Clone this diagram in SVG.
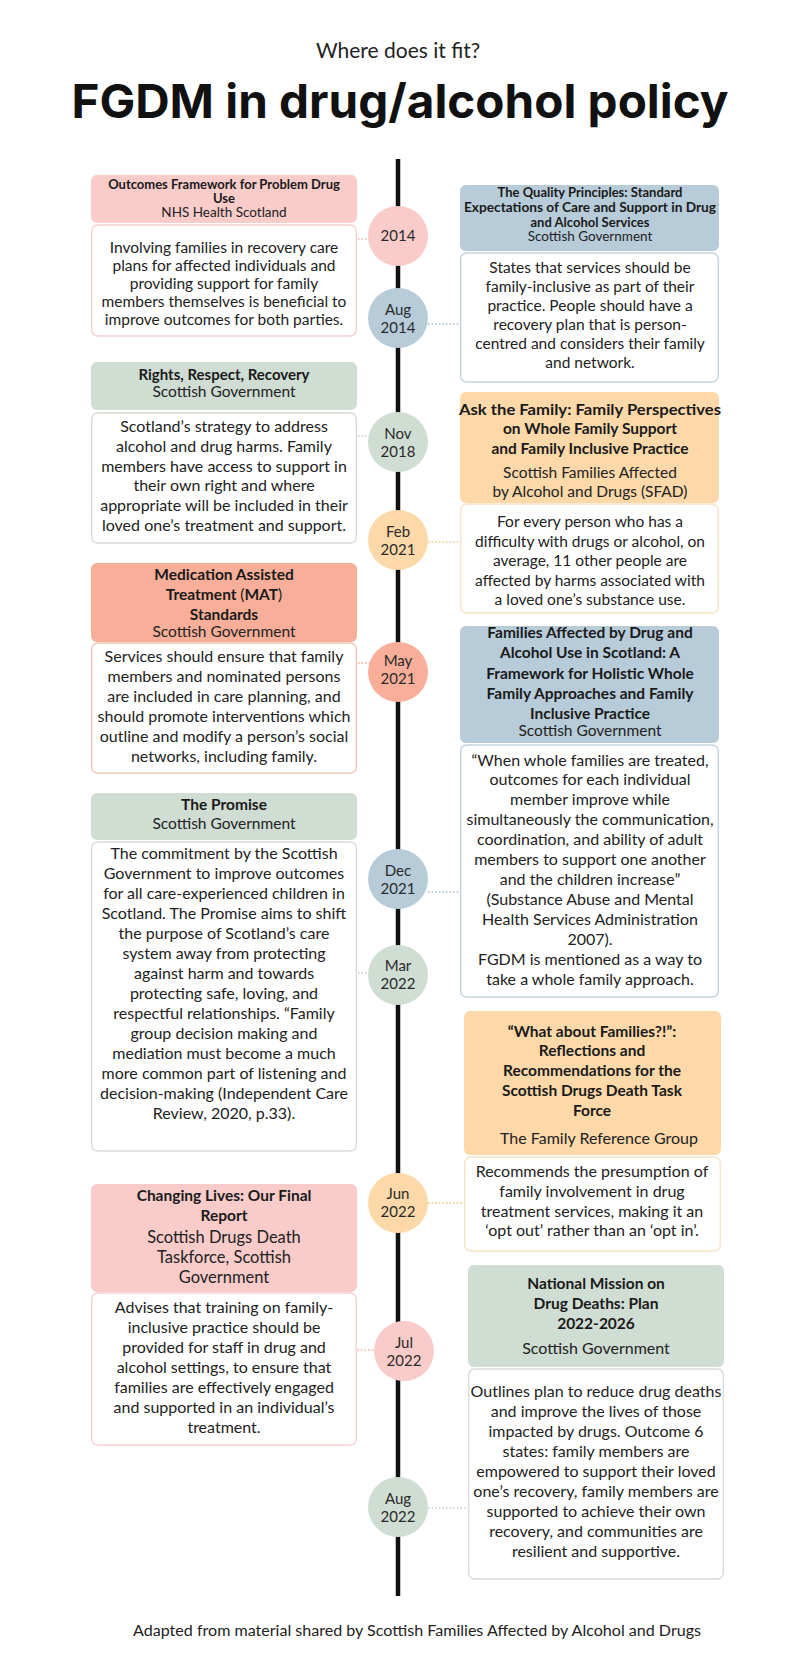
<svg xmlns="http://www.w3.org/2000/svg" width="796" height="1664" viewBox="0 0 796 1664">
<style>
.bg{fill:#ffffff}
.t{font-family:Lato,"Liberation Sans",sans-serif;text-anchor:middle;fill:#222222}
.hb{font-weight:700;fill:#1a1a1a}
.hs{font-weight:400}
.pinkH{fill:#f9cbc9}.blueH{fill:#b7cbd9}.greenH{fill:#cfddd3}.orangeH{fill:#fdd8a8}.salmonH{fill:#f8ae98}
.body{fill:#ffffff;stroke-width:1.4}
.pinkB{stroke:#f2d2d0}.blueB{stroke:#c3d2dc}.greenB{stroke:#d5dcd7}.orangeB{stroke:#f7e3c5}.salmonB{stroke:#f1c5b8}.grayB{stroke:#d8dcde}
.dot{fill:none;stroke-width:1.6;stroke-dasharray:1.6 2}
.ct{font-family:Lato,"Liberation Sans",sans-serif;text-anchor:middle;fill:#2a2a2a;font-size:15px}
</style>
<rect class="bg" x="0" y="0" width="796" height="1664"/>

<g id="title">
<text class="t" x="398" y="58" font-size="21">Where does it fit?</text>
<text x="400" y="118" font-family="Inter,'Liberation Sans',sans-serif" font-weight="700" font-size="47" text-anchor="middle" fill="#111111" textLength="657" lengthAdjust="spacingAndGlyphs">FGDM in drug/alcohol policy</text>
</g>

<g id="connectors">
<line x1="398" y1="159" x2="398" y2="1596" stroke="#111111" stroke-width="4.5"/>
<line class="dot" x1="358" y1="239" x2="370" y2="239" stroke="#f2b6b3"/>
<line class="dot" x1="428" y1="324" x2="460" y2="324" stroke="#a9bfcf"/>
<line class="dot" x1="358" y1="436" x2="370" y2="436" stroke="#c3d0c7"/>
<line class="dot" x1="428" y1="542" x2="460" y2="542" stroke="#f3c58a"/>
<line class="dot" x1="358" y1="663" x2="370" y2="663" stroke="#f3a48e"/>
<line class="dot" x1="428" y1="892" x2="460" y2="892" stroke="#a9bfcf"/>
<line class="dot" x1="358" y1="973" x2="370" y2="973" stroke="#c3d0c7"/>
<line class="dot" x1="428" y1="1203" x2="464" y2="1203" stroke="#f3c58a"/>
<line class="dot" x1="332" y1="1350" x2="375" y2="1350" stroke="#f2aea5"/>
<circle cx="332" cy="1350" r="3.5" fill="#f2a99a"/>
<line class="dot" x1="428" y1="1508" x2="468" y2="1508" stroke="#c3d0c7"/>
</g>

<g id="dates">
<circle cx="398" cy="236" r="30" class="pinkH"/>
<text class="ct" x="398" y="241">2014</text>
<circle cx="398" cy="318" r="30" class="blueH"/>
<text class="ct" x="398" y="315">Aug</text><text class="ct" x="398" y="333">2014</text>
<circle cx="398" cy="442" r="30" class="greenH"/>
<text class="ct" x="398" y="439">Nov</text><text class="ct" x="398" y="457">2018</text>
<circle cx="398" cy="540" r="30" class="orangeH"/>
<text class="ct" x="398" y="537">Feb</text><text class="ct" x="398" y="555">2021</text>
<circle cx="398" cy="672" r="30" class="salmonH"/>
<text class="ct" x="398" y="666">May</text><text class="ct" x="398" y="684">2021</text>
<circle cx="398" cy="879" r="30" class="blueH"/>
<text class="ct" x="398" y="876">Dec</text><text class="ct" x="398" y="894">2021</text>
<circle cx="398" cy="975" r="30" class="greenH"/>
<text class="ct" x="398" y="971">Mar</text><text class="ct" x="398" y="989">2022</text>
<circle cx="398" cy="1203" r="30" class="orangeH"/>
<text class="ct" x="398" y="1199">Jun</text><text class="ct" x="398" y="1217">2022</text>
<circle cx="404" cy="1351" r="30" class="pinkH"/>
<text class="ct" x="404" y="1348">Jul</text><text class="ct" x="404" y="1366">2022</text>
<circle cx="398" cy="1507" r="30" class="greenH"/>
<text class="ct" x="398" y="1504">Aug</text><text class="ct" x="398" y="1522">2022</text>
</g>

<g id="outcomes-framework">
<rect x="91" y="175" width="266" height="48" rx="6" class="pinkH"/>
<rect x="91.7" y="225" width="264.6" height="111" rx="6" class="body pinkB"/>
<text class="t hb" x="224" y="189" font-size="13">Outcomes Framework for Problem Drug</text>
<text class="t hb" x="224" y="203" font-size="13">Use</text>
<text class="t hs" x="224" y="217" font-size="13.5">NHS Health Scotland</text>
<g class="t" font-size="15.5">
<text x="224" y="253">Involving families in recovery care</text>
<text x="224" y="271">plans for affected individuals and</text>
<text x="224" y="289">providing support for family</text>
<text x="224" y="307">members themselves is beneficial to</text>
<text x="224" y="325">improve outcomes for both parties.</text>
</g>
</g>

<g id="quality-principles">
<rect x="460" y="185" width="259" height="66" rx="6" class="blueH"/>
<rect x="460.7" y="253" width="257.6" height="129" rx="6" class="body blueB"/>
<text class="t hb" x="590" y="197" font-size="13">The Quality Principles: Standard</text>
<text class="t hb" x="590" y="212" font-size="13" textLength="252" lengthAdjust="spacingAndGlyphs">Expectations of Care and Support in Drug</text>
<text class="t hb" x="590" y="227" font-size="13">and Alcohol Services</text>
<text class="t hs" x="590" y="241" font-size="13.5">Scottish Government</text>
<g class="t" font-size="15.5">
<text x="590" y="273">States that services should be</text>
<text x="590" y="292">family-inclusive as part of their</text>
<text x="590" y="311">practice. People should have a</text>
<text x="590" y="330">recovery plan that is person-</text>
<text x="590" y="349">centred and considers their family</text>
<text x="590" y="368">and network.</text>
</g>
</g>

<g id="rights-respect-recovery">
<rect x="91" y="362" width="266" height="48" rx="6" class="greenH"/>
<rect x="91.7" y="413" width="264.6" height="130" rx="6" class="body greenB"/>
<text class="t hb" x="224" y="380" font-size="15">Rights, Respect, Recovery</text>
<text class="t hs" x="224" y="397" font-size="15.5">Scottish Government</text>
<g class="t" font-size="16">
<text x="224" y="432">Scotland’s strategy to address</text>
<text x="224" y="452">alcohol and drug harms. Family</text>
<text x="224" y="472">members have access to support in</text>
<text x="224" y="491">their own right and where</text>
<text x="224" y="511">appropriate will be included in their</text>
<text x="224" y="531">loved one’s treatment and support.</text>
</g>
</g>

<g id="ask-the-family">
<rect x="460" y="392" width="259" height="111" rx="6" class="orangeH"/>
<rect x="460.7" y="504" width="257.6" height="109" rx="6" class="body orangeB"/>
<text class="t hb" x="590" y="415" font-size="15.5" textLength="262" lengthAdjust="spacingAndGlyphs">Ask the Family: Family Perspectives</text>
<text class="t hb" x="590" y="434" font-size="15.5">on Whole Family Support</text>
<text class="t hb" x="590" y="454" font-size="15.5">and Family Inclusive Practice</text>
<text class="t hs" x="590" y="478" font-size="15.5">Scottish Families Affected</text>
<text class="t hs" x="590" y="497" font-size="15.5">by Alcohol and Drugs (SFAD)</text>
<g class="t" font-size="15.5">
<text x="590" y="527">For every person who has a</text>
<text x="590" y="547">difficulty with drugs or alcohol, on</text>
<text x="590" y="566">average, 11 other people are</text>
<text x="590" y="586">affected by harms associated with</text>
<text x="590" y="605">a loved one’s substance use.</text>
</g>
</g>

<g id="mat-standards">
<rect x="91" y="563" width="266" height="79" rx="6" class="salmonH"/>
<rect x="91.7" y="643" width="264.6" height="130" rx="6" class="body salmonB"/>
<text class="t hb" x="224" y="580" font-size="15.5">Medication Assisted</text>
<text class="t hb" x="224" y="600" font-size="15.5">Treatment <tspan font-weight="400">(</tspan>MAT<tspan font-weight="400">)</tspan></text>
<text class="t hb" x="224" y="620" font-size="15.5">Standards</text>
<text class="t hs" x="224" y="637" font-size="15.5">Scottish Government</text>
<g class="t" font-size="16">
<text x="224" y="662">Services should ensure that family</text>
<text x="224" y="682">members and nominated persons</text>
<text x="224" y="702">are included in care planning, and</text>
<text x="224" y="722">should promote interventions which</text>
<text x="224" y="742">outline and modify a person’s social</text>
<text x="224" y="762">networks, including family.</text>
</g>
</g>

<g id="families-affected-framework">
<rect x="460" y="626" width="259" height="117" rx="6" class="blueH"/>
<rect x="460.7" y="745" width="257.6" height="252" rx="6" class="body blueB"/>
<text class="t hb" x="590" y="638" font-size="15.5">Families Affected by Drug and</text>
<text class="t hb" x="590" y="658" font-size="15.5">Alcohol Use in Scotland: A</text>
<text class="t hb" x="590" y="679" font-size="15.5">Framework for Holistic Whole</text>
<text class="t hb" x="590" y="699" font-size="15.5">Family Approaches and Family</text>
<text class="t hb" x="590" y="719" font-size="15.5">Inclusive Practice</text>
<text class="t hs" x="590" y="736" font-size="15.5">Scottish Government</text>
<g class="t" font-size="16">
<text x="590" y="766">“When whole families are treated,</text>
<text x="590" y="785">outcomes for each individual</text>
<text x="590" y="805">member improve while</text>
<text x="590" y="825">simultaneously the communication,</text>
<text x="590" y="845">coordination, and ability of adult</text>
<text x="590" y="865">members to support one another</text>
<text x="590" y="885">and the children increase”</text>
<text x="590" y="905">(Substance Abuse and Mental</text>
<text x="590" y="925">Health Services Administration</text>
<text x="590" y="945">2007).</text>
<text x="590" y="965">FGDM is mentioned as a way to</text>
<text x="590" y="985">take a whole family approach.</text>
</g>
</g>

<g id="the-promise">
<rect x="91" y="793" width="266" height="47" rx="6" class="greenH"/>
<rect x="91.7" y="842" width="264.6" height="309" rx="6" class="body grayB"/>
<text class="t hb" x="224" y="810" font-size="15.5">The Promise</text>
<text class="t hs" x="224" y="829" font-size="15.5">Scottish Government</text>
<g class="t" font-size="16">
<text x="224" y="859">The commitment by the Scottish</text>
<text x="224" y="879">Government to improve outcomes</text>
<text x="224" y="899">for all care-experienced children in</text>
<text x="224" y="919">Scotland. The Promise aims to shift</text>
<text x="224" y="939">the purpose of Scotland’s care</text>
<text x="224" y="959">system away from protecting</text>
<text x="224" y="979">against harm and towards</text>
<text x="224" y="999">protecting safe, loving, and</text>
<text x="224" y="1019">respectful relationships. “Family</text>
<text x="224" y="1039">group decision making and</text>
<text x="224" y="1059">mediation must become a much</text>
<text x="224" y="1079">more common part of listening and</text>
<text x="224" y="1099">decision-making (Independent Care</text>
<text x="224" y="1119">Review, 2020, p.33).</text>
</g>
</g>

<g id="what-about-families">
<rect x="464" y="1011" width="257" height="144" rx="6" class="orangeH"/>
<rect x="464.7" y="1157" width="255.6" height="94" rx="6" class="body orangeB"/>
<text class="t hb" x="592" y="1037" font-size="15.5">“What about Families?!”:</text>
<text class="t hb" x="592" y="1056" font-size="15.5">Reflections and</text>
<text class="t hb" x="592" y="1076" font-size="15.5">Recommendations for the</text>
<text class="t hb" x="592" y="1096" font-size="15.5">Scottish Drugs Death Task</text>
<text class="t hb" x="592" y="1116" font-size="15.5">Force</text>
<text class="t hs" x="599" y="1144" font-size="16">The Family Reference Group</text>
<g class="t" font-size="16">
<text x="592" y="1177">Recommends the presumption of</text>
<text x="592" y="1197">family involvement in drug</text>
<text x="592" y="1217">treatment services, making it an</text>
<text x="592" y="1236">‘opt out’ rather than an ‘opt in’.</text>
</g>
</g>

<g id="changing-lives">
<rect x="91" y="1184" width="266" height="108" rx="6" class="pinkH"/>
<rect x="91.7" y="1293" width="264.6" height="152" rx="6" class="body pinkB"/>
<text class="t hb" x="224" y="1201" font-size="15.5">Changing Lives: Our Final</text>
<text class="t hb" x="224" y="1221" font-size="15.5">Report</text>
<text class="t hs" x="224" y="1243" font-size="16.5">Scottish Drugs Death</text>
<text class="t hs" x="224" y="1263" font-size="16.5">Taskforce, Scottish</text>
<text class="t hs" x="224" y="1283" font-size="16.5">Government</text>
<g class="t" font-size="16">
<text x="224" y="1313">Advises that training on family-</text>
<text x="224" y="1333">inclusive practice should be</text>
<text x="224" y="1353">provided for staff in drug and</text>
<text x="224" y="1373">alcohol settings, to ensure that</text>
<text x="224" y="1393">families are effectively engaged</text>
<text x="224" y="1413">and supported in an individual’s</text>
<text x="224" y="1433">treatment.</text>
</g>
</g>

<g id="national-mission">
<rect x="468" y="1265" width="256" height="102" rx="6" class="greenH"/>
<rect x="468.7" y="1369" width="254.6" height="210" rx="6" class="body grayB"/>
<text class="t hb" x="596" y="1289" font-size="15.5">National Mission on</text>
<text class="t hb" x="596" y="1309" font-size="15.5">Drug Deaths: Plan</text>
<text class="t hb" x="596" y="1329" font-size="15.5">2022-2026</text>
<text class="t hs" x="596" y="1354" font-size="16">Scottish Government</text>
<g class="t" font-size="16">
<text x="596" y="1397">Outlines plan to reduce drug deaths</text>
<text x="596" y="1417">and improve the lives of those</text>
<text x="596" y="1437">impacted by drugs. Outcome 6</text>
<text x="596" y="1457">states: family members are</text>
<text x="596" y="1477">empowered to support their loved</text>
<text x="596" y="1497">one’s recovery, family members are</text>
<text x="596" y="1517">supported to achieve their own</text>
<text x="596" y="1537">recovery, and communities are</text>
<text x="596" y="1557">resilient and supportive.</text>
</g>
</g>

<g id="footer">
<text class="t" x="417" y="1636" font-size="15.5" textLength="568" lengthAdjust="spacingAndGlyphs">Adapted from material shared by Scottish Families Affected by Alcohol and Drugs</text>
</g>
</svg>
